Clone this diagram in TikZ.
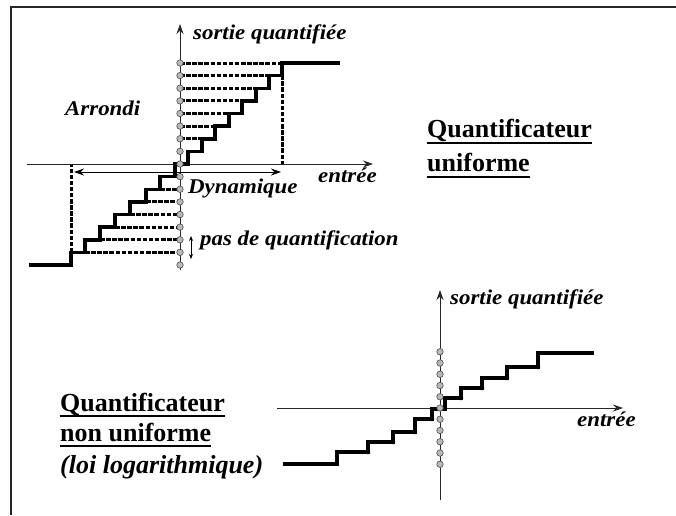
\documentclass[tikz,border=0pt]{standalone}
\usepackage{fontspec}
\setmainfont{Liberation Serif}
\newfontfamily\lblfont[FakeStretch=1.09]{Liberation Serif}
\usetikzlibrary{arrows.meta}

\tikzset{
  frameline/.style={line width=1.5pt, black!85},
  axisline/.style={line width=0.9pt, black!85, -{Stealth[length=10pt,width=7pt]}},
  stair/.style={line width=3.5pt, line join=miter},
  guide/.style={line width=3pt, dash pattern=on 4.5pt off 1.6pt},
  span arrow/.style={line width=0.9pt, {Stealth[length=10pt,width=7pt]}-{Stealth[length=10pt,width=7pt]}},
  step arrow/.style={line width=0.8pt, {Stealth[length=5pt,width=4pt]}-{Stealth[length=5pt,width=4pt]}},
  level dot/.style={circle, fill=gray!55, draw=black!70, line width=0.6pt, inner sep=0pt, minimum size=6.5pt},
  corner dot/.style={circle, fill=black, inner sep=0pt, minimum size=4.5pt},
  lbl/.style={font=\lblfont\bfseries\itshape\fontsize{21}{21}\selectfont, inner sep=0pt, anchor=base west},
  title/.style={font=\bfseries\fontsize{26}{26}\selectfont, inner sep=0pt, anchor=base west},
  subtitle/.style={font=\bfseries\itshape\fontsize{26}{26}\selectfont, inner sep=0pt, anchor=base west},
  underl/.style={line width=2.2pt},
}

\begin{document}
\begin{tikzpicture}[x=1pt, y=-1pt]
\useasboundingbox (0,0) rectangle (676,515);

% frame
\draw[frameline] (11,515) -- (11,7) -- (676,7);

% ===================== uniform quantizer =====================
\coordinate (hxA) at (27,164);
\coordinate (hxB) at (373,164);
\coordinate (vyA) at (180,270);
\coordinate (vyB) at (180,24);

% guide lines from the output levels to the staircase
\coordinate (u8) at (282,63);
\coordinate (u7) at (269,75.625);
\coordinate (u6) at (256,88.25);
\coordinate (u5) at (242,100.875);
\coordinate (u4) at (229,113.5);
\coordinate (u3) at (215,126.125);
\coordinate (u2) at (202,138.75);
\coordinate (l2) at (160,189.25);
\coordinate (l3) at (146,201.875);
\coordinate (l4) at (130,214.5);
\coordinate (l5) at (115,227.125);
\coordinate (l6) at (100,239.75);
\coordinate (l7) at (85,252.375);
\coordinate (uR) at (282,164);
\coordinate (uL) at (71,164);
\coordinate (lL) at (71,252.375);

\foreach \k in {-8,...,8}
  \coordinate (p\k) at (180,{164-12.625*\k});

\foreach \k in {2,...,8}
  \draw[guide] (p\k) -- (u\k);
\foreach \k in {2,...,7}
  \draw[guide] (l\k) -- (p-\k);
\draw[guide] (u8) -- (uR);
\draw[guide] (lL) -- (uL);

\draw[axisline] (hxA) -- (hxB);
\draw[axisline] (vyA) -- (vyB);

% rounding staircase
\draw[stair] (29,265) -- (71,265) -- (71,252.375) -- (85,252.375) -- (85,239.75)
  -- (100,239.75) -- (100,227.125) -- (115,227.125) -- (115,214.5) -- (130,214.5)
  -- (130,201.875) -- (146,201.875) -- (146,189.25) -- (160,189.25) -- (160,176.625)
  -- (175,176.625) -- (175,164) -- (188,164) -- (188,151.375) -- (202,151.375)
  -- (202,138.75) -- (215,138.75) -- (215,126.125) -- (229,126.125) -- (229,113.5)
  -- (242,113.5) -- (242,100.875) -- (256,100.875) -- (256,88.25) -- (269,88.25)
  -- (269,75.625) -- (282,75.625) -- (282,63) -- (340,63);

\foreach \k in {-8,...,8}
  \node[level dot] (d\k) at (p\k) {};

% dynamic range
\coordinate (dynL) at (74,172);
\coordinate (dynR) at (281,172);
\draw[span arrow] (dynL) -- (dynR);

% quantization step
\coordinate (stT) at (191,236);
\coordinate (stB) at (191,259);
\draw[step arrow] (stT) -- (stB);

\node[lbl] (sq1) at (193,39) {sortie quantifiée};
\node[lbl] (arr) at (65,115) {Arrondi};
\node[lbl] (ent1) at (318,182) {entrée};
\node[lbl] (dyn) at (188,193) {Dynamique};
\node[lbl] (pas) at (200,245) {pas de quantification};

\node[title] (qu1) at (427,137) {Quantificateur};
\node[title] (un1) at (427,171) {uniforme};
\draw[underl] ([yshift=-6pt]qu1.base west) -- ([yshift=-6pt]qu1.base east);
\draw[underl] ([yshift=-6pt]un1.base west) -- ([yshift=-6pt]un1.base east);

% ===================== non-uniform quantizer =====================
\coordinate (hx2A) at (277,408);
\coordinate (hx2B) at (623,408);
\coordinate (vy2A) at (440,500);
\coordinate (vy2B) at (440,290);
\draw[axisline] (hx2A) -- (hx2B);
\draw[axisline] (vy2A) -- (vy2B);

\draw[stair] (283,464) -- (337,464) -- (337,452) -- (368,452) -- (368,442)
  -- (393,442) -- (393,432) -- (415,432) -- (415,419) -- (432,419) -- (432,409)
  -- (445,409) -- (445,398) -- (461,398) -- (461,388) -- (482,388) -- (482,378)
  -- (507,378) -- (507,367) -- (538,367) -- (538,353) -- (594,353);

\foreach \x/\y in {368/452, 393/442, 415/432, 432/419, 461/398, 482/388, 507/378, 538/367}
  \node[corner dot] at (\x,\y) {};

\foreach \k in {-5,...,5}
  \node[level dot] (e\k) at (440,{408-11.25*\k}) {};

\node[lbl] (sq2) at (450,304) {sortie quantifiée};
\node[lbl] (ent2) at (577,426) {entrée};

\node[title] (qu2) at (60,411) {Quantificateur};
\node[title] (nu2) at (60,441) {non uniforme};
\node[subtitle] (log2) at (60,473) {(loi logarithmique)};
\draw[underl] ([yshift=-5pt]qu2.base west) -- ([yshift=-5pt]qu2.base east);
\draw[underl] ([yshift=-5pt]nu2.base west) -- ([yshift=-5pt]nu2.base east);
\end{tikzpicture}
\end{document}
